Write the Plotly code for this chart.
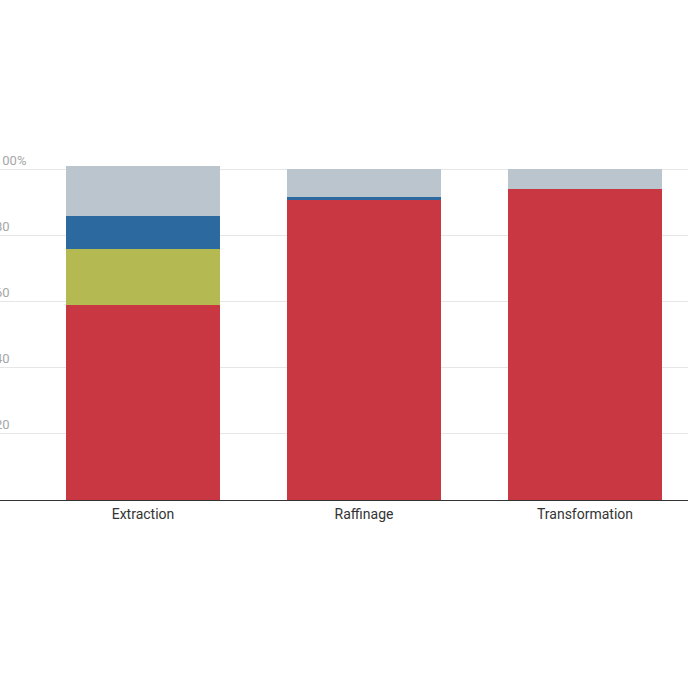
import plotly.graph_objects as go

categories = ["Extraction", "Raffinage", "Transformation"]

# parts en %, empilées du bas vers le haut
serie_rouge = [58.9, 90.9, 94.0]
serie_verte = [16.9, 0, 0]
serie_bleue = [10.1, 0.9, 0]
serie_grise = [15.1, 8.2, 6.0]

tick_vals = [20, 40, 60, 80, 100]
tick_text = ["20", "40", "60", "80", "100%"]

couleurs = {
    "rouge": "#c93743",
    "verte": "#b4b951",
    "bleue": "#2b699e",
    "grise": "#bac5ce",
}

fig = go.Figure()
for nom, valeurs in [("rouge", serie_rouge), ("verte", serie_verte),
                     ("bleue", serie_bleue), ("grise", serie_grise)]:
    fig.add_trace(go.Bar(
        x=categories,
        y=valeurs,
        name=nom,
        marker={"color": couleurs[nom], "line": {"width": 0}},
        hoverinfo="skip",
    ))

fig.update_layout(
    barmode="stack",
    bargap=0.3,
    width=688,
    height=688,
    showlegend=False,
    plot_bgcolor="white",
    paper_bgcolor="white",
    font={"family": "Roboto", "size": 13, "color": "#333333"},
    margin={"l": 0, "r": 0, "t": 140, "b": 188, "pad": 0, "autoexpand": False},
    xaxis={
        "type": "category",
        "range": [-0.647, 2.466],
        "showline": True,
        "linecolor": "#333333",
        "linewidth": 1,
        "ticks": "",
        "ticklabelstandoff": 1,
        "showgrid": False,
        "automargin": False,
        "tickfont": {"size": 14, "color": "#333333"},
    },
    yaxis={
        "range": [0, 108.9],
        "tickvals": tick_vals,
        "ticktext": tick_text,
        "showgrid": True,
        "gridcolor": "#e6e6e6",
        "gridwidth": 1,
        "zeroline": False,
        "showline": False,
        "ticks": "",
        "automargin": False,
        "ticklabelposition": "inside top",
        "ticklabeloverflow": "allow",
        "ticklabelstandoff": -8,
        "tickfont": {"size": 13, "color": "#a6a6a6"},
    },
)

fig.write_html("out.html", config={"displayModeBar": False},
               post_script="document.body.style.margin='0';")
